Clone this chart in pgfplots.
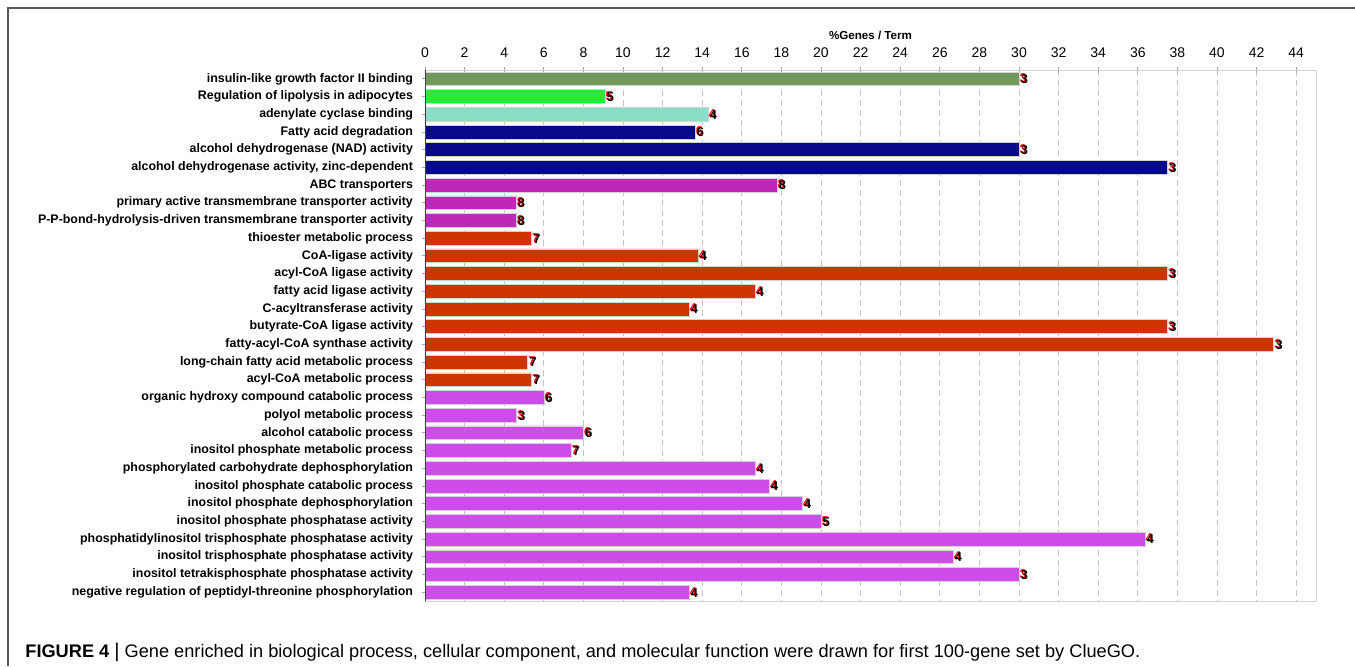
\documentclass[border=0pt]{standalone}
\usepackage{pgfplots}
\pgfplotsset{compat=1.18}
\usepackage{fontspec}
\setmainfont{Liberation Sans}

% ClueGO term colours
\definecolor{cOlive}{RGB}{115,152,92}
\definecolor{cGreen}{RGB}{34,238,51}
\definecolor{cAqua}{RGB}{138,222,200}
\definecolor{cNavy}{RGB}{6,10,138}
\definecolor{cMagenta}{RGB}{192,38,186}
\definecolor{cOrange}{RGB}{204,52,0}
\definecolor{cViolet}{RGB}{204,77,234}
\definecolor{frameGray}{RGB}{90,90,90}

% gene count drawn black with a red ghost behind it
\newcommand{\countlabel}[1]{{\color{red}\makebox[0pt][l]{\hspace{-0.6pt}\raisebox{0.5pt}{#1}}}#1}

\begin{document}
\begin{tikzpicture}[x=1pt,y=1pt]
\path[use as bounding box] (0,0) rectangle (677.5,333);
% open frame: top and left edges
\draw[frameGray, line width=0.8pt] (4,0) -- (4,329) -- (677.5,329);

\begin{axis}[
  at={(212.5pt,298pt)}, anchor=north west,
  scale only axis,
  width=445.5pt, height=265.5pt,
  xbar, bar width=0.78,
  xmin=0, xmax=45,
  ymin=0.5, ymax=30.5,
  y dir=reverse,
  xtick={0,2,...,44},
  xtick pos=right, xticklabel pos=right,
  ytick={1,...,30},
  ytick pos=left,
  tick align=center,
  major tick length=3pt,
  tick style={gray!70, line width=0.4pt},
  /pgf/number format/assume math mode=true,
  xticklabel style={font=\fontsize{7}{8}\selectfont, yshift=1pt},
  yticklabel style={font=\bfseries\fontsize{6.2}{7}\selectfont, xshift=-1pt},
  yticklabels={
    insulin-like growth factor II binding,
    Regulation of lipolysis in adipocytes,
    adenylate cyclase binding,
    Fatty acid degradation,
    alcohol dehydrogenase (NAD) activity,
    {alcohol dehydrogenase activity, zinc-dependent},
    ABC transporters,
    primary active transmembrane transporter activity,
    P-P-bond-hydrolysis-driven transmembrane transporter activity,
    thioester metabolic process,
    CoA-ligase activity,
    acyl-CoA ligase activity,
    fatty acid ligase activity,
    C-acyltransferase activity,
    butyrate-CoA ligase activity,
    fatty-acyl-CoA synthase activity,
    long-chain fatty acid metabolic process,
    acyl-CoA metabolic process,
    organic hydroxy compound catabolic process,
    polyol metabolic process,
    alcohol catabolic process,
    inositol phosphate metabolic process,
    phosphorylated carbohydrate dephosphorylation,
    inositol phosphate catabolic process,
    inositol phosphate dephosphorylation,
    inositol phosphate phosphatase activity,
    phosphatidylinositol trisphosphate phosphatase activity,
    inositol trisphosphate phosphatase activity,
    inositol tetrakisphosphate phosphatase activity,
    negative regulation of peptidyl-threonine phosphorylation},
  xlabel={\%Genes / Term},
  xlabel style={font=\bfseries\fontsize{5.8}{6.5}\selectfont,
    at={(axis description cs:0.5,1)}, anchor=center, yshift=17.5pt},
  xmajorgrids,
  grid style={densely dashed, gray!45, line width=0.4pt},
  axis line style={gray!35, line width=0.5pt},
  axis on top=false,
  every axis plot/.append style={bar shift=0pt, draw=gray!35, line width=0.3pt},
  point meta=explicit symbolic,
  nodes near coords={\countlabel{\pgfplotspointmeta}},
  nodes near coords align={horizontal},
  every node near coord/.append style={font=\bfseries\fontsize{6.4}{7}\selectfont,
    anchor=west, inner xsep=0.8pt, text=black},
]
\addplot[fill=cOlive] table[meta=n] {
x y n
30.00 1 3
};
\addplot[fill=cGreen] table[meta=n] {
x y n
9.09 2 5
};
\addplot[fill=cAqua] table[meta=n] {
x y n
14.29 3 4
};
\addplot[fill=cNavy] table[meta=n] {
x y n
13.64 4 6
30.00 5 3
37.50 6 3
};
\addplot[fill=cMagenta] table[meta=n] {
x y n
17.78 7 8
4.60 8 8
4.60 9 8
};
\addplot[fill=cOrange] table[meta=n] {
x y n
5.38 10 7
13.79 11 4
37.50 12 3
16.67 13 4
13.33 14 4
37.50 15 3
42.86 16 3
5.19 17 7
5.38 18 7
};
\addplot[fill=cViolet] table[meta=n] {
x y n
6.00 19 6
4.62 20 3
8.00 21 6
7.37 22 7
16.67 23 4
17.39 24 4
19.05 25 4
20.00 26 5
36.36 27 4
26.67 28 4
30.00 29 3
13.33 30 4
};
% darker left spine
\draw[black!75, line width=0.5pt] (rel axis cs:0,0) -- (rel axis cs:0,1);
\end{axis}

\node[anchor=base west, inner sep=0, font=\fontsize{9.1}{10}\selectfont]
  at (12.5,4.5) {\textbf{FIGURE 4} {\fontsize{10}{11}\selectfont|} Gene enriched in biological process, cellular component, and molecular function were drawn for first 100-gene set by ClueGO.};
\end{tikzpicture}
\end{document}
